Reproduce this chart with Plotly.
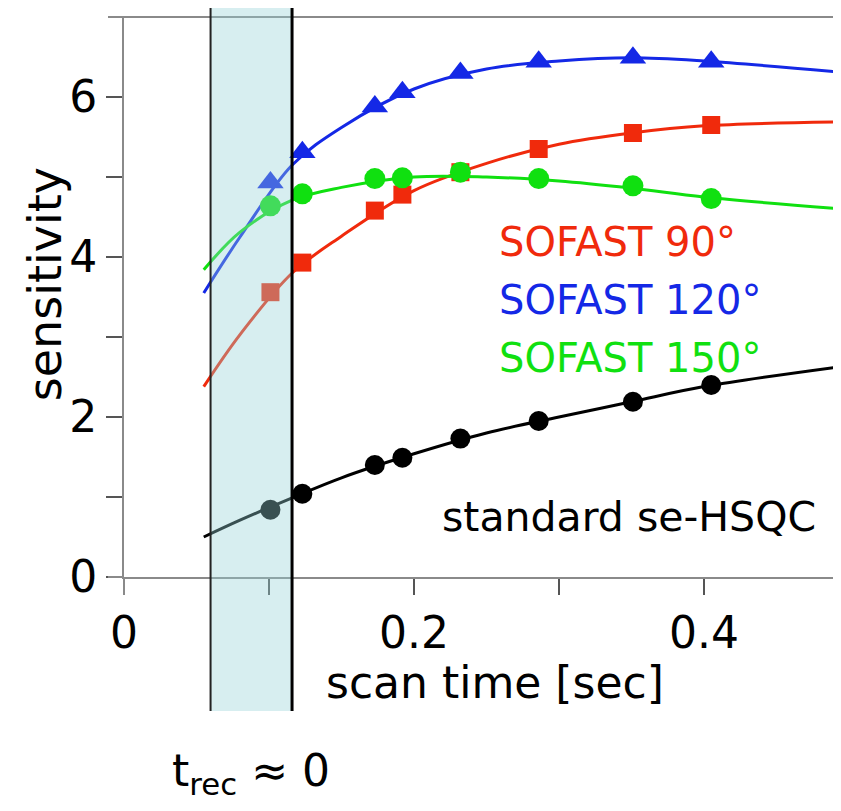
import plotly.graph_objects as go

# ---- data ----
scan_time = [0.101, 0.123, 0.173, 0.192, 0.232, 0.286, 0.351, 0.405]
hsqc = [0.84, 1.04, 1.40, 1.49, 1.73, 1.95, 2.19, 2.40]
sofast90 = [3.56, 3.93, 4.58, 4.78, 5.06, 5.35, 5.55, 5.65]
sofast120 = [4.93, 5.31, 5.88, 6.06, 6.30, 6.44, 6.49, 6.44]
sofast150 = [4.64, 4.79, 4.98, 4.99, 5.06, 4.98, 4.89, 4.73]

fit_time = [0.055, 0.08, 0.116, 0.15, 0.2, 0.25, 0.3, 0.35, 0.4, 0.4945]
fit_hsqc = [0.50, 0.71, 0.99, 1.24, 1.54, 1.80, 2.00, 2.19, 2.38, 2.63]
fit_90 = [2.38, 3.03, 3.80, 4.26, 4.83, 5.17, 5.41, 5.55, 5.64, 5.69]
fit_120 = [3.55, 4.25, 5.15, 5.62, 6.10, 6.35, 6.45, 6.49, 6.45, 6.31]
fit_150 = [3.84, 4.31, 4.71, 4.87, 5.00, 5.00, 4.95, 4.86, 4.75, 4.60]

x_ticks = [0, 0.2, 0.4]
x_minor = [0.1, 0.3]
y_ticks = [0, 2, 4, 6]
y_minor = [1, 3, 5]

t_rec_window = [0.0597, 0.1159]

FONT = "DejaVu Sans"
BLACK = "#000000"
RED = "#f02a0c"
BLUE = "#1428e6"
GREEN = "#10e010"

fig = go.Figure()

series = [
    (fit_hsqc, hsqc, BLACK, "circle", 20, "standard se-HSQC"),
    (fit_90, sofast90, RED, "square", 18, "SOFAST 90°"),
    (fit_120, sofast120, BLUE, "triangle-up", 23, "SOFAST 120°"),
    (fit_150, sofast150, GREEN, "circle", 21, "SOFAST 150°"),
]
for fit_y, pts_y, col, sym, size, name in series:
    fig.add_trace(go.Scatter(x=fit_time, y=fit_y, mode="lines",
                             line=dict(color=col, width=3, shape="spline", smoothing=1.0),
                             showlegend=False, hoverinfo="skip", cliponaxis=False))
    fig.add_trace(go.Scatter(x=scan_time, y=pts_y, mode="markers", name=name,
                             marker=dict(color=col, symbol=sym, size=size, line=dict(width=0)),
                             showlegend=False, cliponaxis=False))

axis_common = dict(showgrid=False, zeroline=False, showline=True, linecolor="#8a8a8a",
                   linewidth=2, ticks="outside", ticklen=16, tickwidth=2, tickcolor="#555555",
                   tickfont=dict(family=FONT, size=44, color="black"))
minor_common = dict(ticks="outside", ticklen=16, tickwidth=2, tickcolor="#555555", showgrid=False)

fig.update_xaxes(range=[0, 0.4945], tickmode="array", tickvals=x_ticks,
                 ticktext=["0", "0.2", "0.4"],
                 minor=dict(tickmode="array", tickvals=x_minor, **minor_common), **axis_common)
fig.update_yaxes(range=[0, 7], tickmode="array", tickvals=y_ticks,
                 ticktext=["0", "2", "4", "6"],
                 minor=dict(tickmode="array", tickvals=y_minor, **minor_common), **axis_common)

shapes = [
    # axis extensions past the origin and the top frame line
    dict(type="line", xref="paper", yref="paper", x0=-16 / 717, x1=0, y0=0, y1=0,
         line=dict(color="#8a8a8a", width=2)),
    dict(type="line", xref="paper", yref="paper", x0=0, x1=0, y0=0, y1=-18 / 560,
         line=dict(color="#8a8a8a", width=2)),
    dict(type="line", xref="paper", yref="paper", x0=-16 / 717, x1=1, y0=1, y1=1,
         line=dict(color="#8a8a8a", width=2)),
    # t_rec window
    dict(type="rect", xref="x", yref="paper", x0=t_rec_window[0], x1=t_rec_window[1],
         y0=-0.2393, y1=1.0179, fillcolor="rgb(150,210,215)", opacity=0.38,
         line=dict(width=0), layer="above"),
    dict(type="line", xref="x", yref="paper", x0=t_rec_window[0], x1=t_rec_window[0],
         y0=-0.2393, y1=1.0179, line=dict(color="#222222", width=2), layer="above"),
    dict(type="line", xref="x", yref="paper", x0=t_rec_window[1], x1=t_rec_window[1],
         y0=-0.2393, y1=1.0179, line=dict(color="black", width=3), layer="above"),
]

annotations = [
    dict(text="sensitivity", xref="paper", yref="paper", x=-0.110, y=0.523, textangle=-90,
         showarrow=False, font=dict(family=FONT, size=46, color="black"),
         xanchor="center", yanchor="middle"),
    dict(text="scan time [sec]", xref="paper", yref="paper", x=0.517, y=-0.189,
         showarrow=False, font=dict(family=FONT, size=44, color="black"),
         xanchor="center", yanchor="middle"),
    dict(text="t<sub>rec</sub> ≈ 0", xref="paper", yref="paper", x=0.064, y=-0.350,
         showarrow=False, font=dict(family=FONT, size=44, color="black"),
         xanchor="left", yanchor="middle"),
    dict(text="SOFAST 90°", xref="x", yref="y", x=0.257, y=4.19, showarrow=False,
         font=dict(family=FONT, size=40, color=RED), xanchor="left", yanchor="middle"),
    dict(text="SOFAST 120°", xref="x", yref="y", x=0.257, y=3.46, showarrow=False,
         font=dict(family=FONT, size=40, color=BLUE), xanchor="left", yanchor="middle"),
    dict(text="SOFAST 150°", xref="x", yref="y", x=0.257, y=2.74, showarrow=False,
         font=dict(family=FONT, size=40, color=GREEN), xanchor="left", yanchor="middle"),
    dict(text="standard se-HSQC", xref="x", yref="y", x=0.218, y=0.75, showarrow=False,
         font=dict(family=FONT, size=41, color=BLACK), xanchor="left", yanchor="middle"),
]

# page body adds an 8px margin, so margins are shifted to compensate
fig.update_layout(width=841, height=795, margin=dict(l=116, r=8, t=9, b=226),
                  plot_bgcolor="white", paper_bgcolor="white",
                  shapes=shapes, annotations=annotations, showlegend=False)

fig.write_html("out.html")
